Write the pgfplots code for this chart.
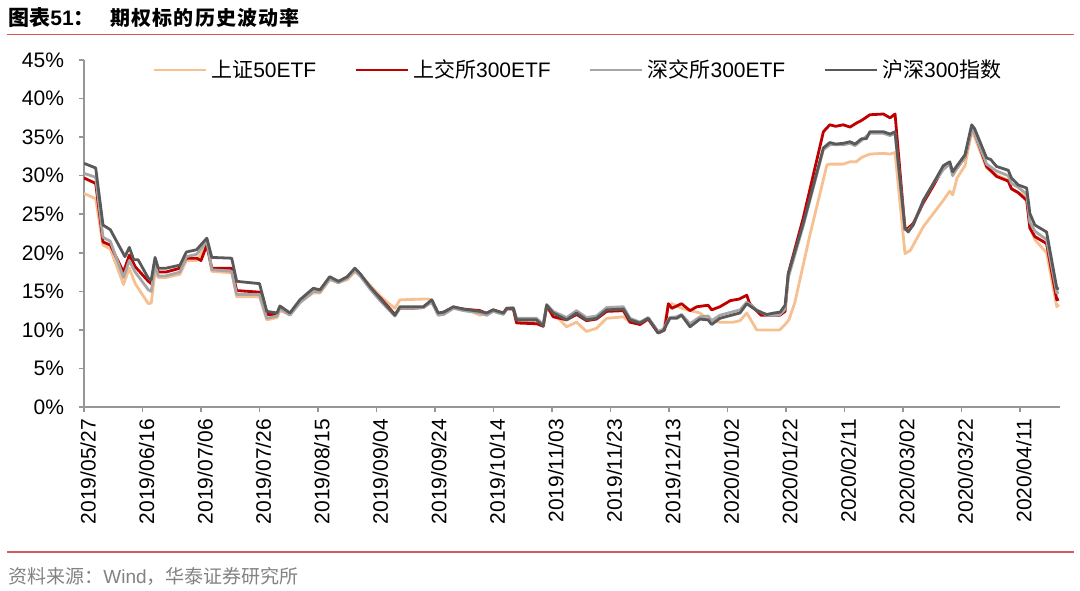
\documentclass[border=0pt]{standalone}
\usepackage{fontspec}
\setmainfont{Liberation Sans}
\newfontfamily\cjk{Noto Sans CJK SC}
\newfontfamily\cjkls[LetterSpace=6]{Noto Sans CJK SC}
\usepackage{pgfplots}
\pgfplotsset{compat=1.18}
\definecolor{cOrange}{RGB}{247,192,145}
\definecolor{cRed}{RGB}{192,0,0}
\definecolor{cLGray}{RGB}{166,166,166}
\definecolor{cDGray}{RGB}{89,89,89}
\definecolor{axgray}{RGB}{150,150,150}
\definecolor{lineRed}{RGB}{214,90,90}
\definecolor{srcgray}{RGB}{130,130,130}
\begin{document}
\begin{tikzpicture}
\useasboundingbox (0,0) rectangle (540pt,-295pt);
\node[anchor=base west, inner sep=0pt, font=\fontsize{10.5}{12}\selectfont\bfseries] at (4pt,-12.5pt) {{\cjk 图表}51{\cjk ：}};
\node[anchor=base west, inner sep=0pt, font=\fontsize{10}{12}\selectfont\cjkls\bfseries] at (55pt,-12.5pt) {期权标的历史波动率};
\draw[lineRed, line width=0.9pt] (3.5pt,-17.25pt) -- (537pt,-17.25pt);
\draw[lineRed, line width=0.9pt] (3.5pt,-276pt) -- (537pt,-276pt);
\node[anchor=base west, inner sep=0pt, text=srcgray, font=\fontsize{9.5}{11}\selectfont] at (4pt,-291.5pt) {{\cjk 资料来源：}Wind{\cjk ，华泰证券研究所}};
\begin{axis}[
  at={(42pt,-203.5pt)}, anchor=south west, scale only axis,
  width=488pt, height=173.5pt,
  xmin=0, xmax=333.7, ymin=0, ymax=45,
  axis x line*=bottom, axis y line*=left,
  axis line style={draw=axgray, line width=0.75pt, -},
  tick align=outside, major tick length=2.5pt,
  tick style={axgray, line width=0.75pt},
  xtick={0,20,...,320},
  xticklabels={2019/05/27,2019/06/16,2019/07/06,2019/07/26,2019/08/15,2019/09/04,2019/09/24,2019/10/14,2019/11/03,2019/11/23,2019/12/13,2020/01/02,2020/01/22,2020/02/11,2020/03/02,2020/03/22,2020/04/11},
  xticklabel style={rotate=90, anchor=east, yshift=-2pt, font=\fontsize{10.5}{12}\selectfont},
  ytick={0,5,...,45},
  yticklabels={0\%,5\%,10\%,15\%,20\%,25\%,30\%,35\%,40\%,45\%},
  yticklabel style={xshift=-4pt, font=\fontsize{10.5}{12}\selectfont},
  legend style={at={(0.507,0.971)}, anchor=center, draw=none, fill=none,
    legend columns=4, font=\fontsize{10.5}{12}\selectfont,
    /tikz/every even column/.append style={column sep=17pt}},
  legend image code/.code={\draw[#1] (0pt,0pt) -- (26pt,0pt);},
  every axis plot/.append style={line width=1.4pt, line join=round, no markers},
]
\addplot[cOrange] coordinates {
(0,27.7) (4,27.0) (6.5,21.0) (9,20.5) (13.5,15.9) (15.5,18.0) (17.5,16.0) (22,13.4) (23,13.5) (24.3,17.5) (25.4,16.8) (28,16.8) (32.8,17.2) (35,19.0) (38.5,19.0) (42,21.0) (43.7,17.6) (50.5,17.4) (52.2,14.3) (60,14.3) (62.5,11.3) (66,11.6) (67,12.5) (70.4,12.0) (73.8,13.6) (78.4,14.8) (80.7,14.8) (84,16.5) (87,16.2) (90,16.5) (92.6,17.5) (94.4,17.1) (97.8,15.8) (101.2,14.4) (104,13.5) (106.3,12.8) (108,13.9) (116,14.0) (117.5,14.0) (118.9,13.9) (121.1,12.2) (123,12.3) (126.3,13.0) (129.7,12.7) (133,12.3) (135.4,11.9) (137.7,12.2) (139.9,12.6) (143.4,12.2) (144.5,12.8) (146.8,12.8) (147.9,11.0) (154.7,10.9) (157,10.4) (158.2,12.8) (160.4,12.0) (163,11.2) (165,10.4) (168.4,11.0) (171.8,9.8) (175.2,10.2) (178.7,11.5) (184.4,11.7) (186.7,11.0) (190.1,10.8) (192.9,11.5) (196.3,9.8) (198.1,10.0) (199.8,13.2) (201,13.4) (204.3,12.8) (207.2,12.5) (210.6,12.2) (213.4,11.3) (217.4,11.0) (222,11.0) (224.3,11.2) (226.6,12.2) (230,10.0) (237.9,10.0) (239.7,10.7) (241,11.3) (243,13.5) (248,22.0) (254,31.4) (255,31.5) (259.6,31.5) (261.9,31.8) (264,31.8) (266,32.4) (268.7,32.8) (273.3,32.9) (275.6,32.8) (277.3,33.0) (280.7,19.9) (282.5,20.3) (287,23.4) (290.4,25.1) (293.8,26.8) (296,28.0) (297,27.5) (298.5,29.7) (301.2,31.3) (303.5,35.7) (304.5,35.0) (308.6,31.0) (312,30.1) (316,29.4) (317.1,28.3) (319.4,27.8) (322.3,27.3) (323.4,23.4) (325.1,21.7) (329.1,20.0) (332.6,13.0) (333.3,13.3)
};
\addlegendentry{{\cjk 上证}50ETF}
\addplot[cRed] coordinates {
(0,29.7) (4,29.0) (6.5,21.4) (9,21.0) (13.5,17.5) (15.5,19.7) (17.5,18.2) (22,16.3) (23,16.0) (24.3,19.0) (25.4,17.5) (28,17.5) (32.8,18.0) (35,19.3) (38.5,19.3) (40,19.0) (42,21.0) (43.7,18.0) (50.5,18.0) (52.2,15.1) (56,15.0) (60,14.9) (62.5,12.0) (66,12.0) (67,12.9) (70.4,12.0) (73.8,13.7) (78.4,15.2) (80.7,15.0) (84,16.8) (87,16.2) (90,16.8) (92.6,17.8) (94.4,17.2) (97.8,15.5) (101.2,14.2) (106.3,12.0) (108,12.8) (112,12.8) (116,12.9) (118.9,13.7) (121.1,12.1) (123,12.3) (126.3,12.9) (129.7,12.7) (135.4,12.5) (137.7,12.1) (139.9,12.6) (143.4,12.1) (144.5,12.7) (146.8,12.7) (147.9,10.9) (154.7,10.8) (157,10.5) (158.2,13.2) (160.4,11.7) (165,11.3) (168.4,12.0) (171.8,11.2) (175.2,11.4) (178.7,12.4) (184.4,12.5) (186.7,11.0) (190.1,10.7) (192.9,11.4) (196.3,9.6) (198.5,10.0) (199.8,13.4) (201,12.8) (204.3,13.4) (207.2,12.5) (209.5,13.0) (213.4,13.2) (214.6,12.6) (217.4,13.0) (221,13.8) (224,14.0) (226.6,14.5) (227.6,13.4) (231.5,11.9) (237.9,11.9) (239.7,12.4) (240.8,17.3) (245.9,24.5) (252.8,35.7) (255,36.6) (257,36.4) (259.6,36.6) (261.9,36.3) (264,36.8) (266,37.2) (268.7,37.9) (273.3,38.0) (275.6,37.5) (277.3,38.0) (280.7,23.0) (281.8,23.2) (283.5,23.8) (287,26.5) (290.4,28.7) (293.8,31.0) (296,31.6) (297,30.3) (298.5,31.0) (301.2,32.4) (303.5,36.1) (304.5,35.6) (308.6,31.2) (312,29.9) (316,29.3) (317.1,28.3) (319.4,27.8) (322.3,26.8) (323.4,23.2) (325.1,22.1) (329.1,21.2) (332.6,13.9) (333.3,14.0)
};
\addlegendentry{{\cjk 上交所}300ETF}
\addplot[cLGray] coordinates {
(0,30.3) (4,29.8) (6.5,22.0) (9,21.5) (13.5,16.8) (15.5,19.0) (17.5,17.5) (22,15.2) (23,15.0) (24.3,18.5) (25.4,17.0) (28,17.0) (32.8,17.5) (35,19.5) (38.5,19.8) (42,21.5) (43.7,17.8) (50.5,17.6) (52.2,14.6) (60,14.6) (62.5,11.5) (66,11.8) (67,12.8) (70.4,11.9) (73.8,13.5) (78.4,15.0) (80.7,14.9) (84,16.6) (87,16.1) (90,16.7) (92.6,17.7) (94.4,17.0) (97.8,15.3) (101.2,13.8) (106.3,11.8) (108,12.8) (112,12.8) (116,12.9) (118.9,13.6) (121.1,11.9) (123,12.0) (126.3,12.8) (129.7,12.5) (135.4,12.2) (137.7,11.9) (139.9,12.4) (143.4,12.0) (144.5,12.8) (146.8,12.9) (147.9,11.5) (154.7,11.5) (157,10.7) (158.2,13.3) (160.4,12.4) (165,11.6) (168.4,12.5) (171.8,11.6) (175.2,11.8) (178.7,12.9) (184.4,13.0) (186.7,11.5) (190.1,11.0) (192.9,11.6) (196.3,9.8) (198.1,10.1) (200.3,11.6) (202.6,11.7) (204.3,12.0) (207.2,10.8) (210.6,11.7) (213.4,11.8) (214.6,11.2) (217.4,11.9) (224.3,12.6) (226.6,13.6) (230,12.6) (233.4,11.9) (236,11.9) (238,12.0) (239.7,12.7) (240.8,16.8) (245.9,23.5) (252.8,33.4) (255,34.0) (259.6,34.0) (261.9,34.2) (263.6,33.9) (265.9,34.6) (268.7,35.5) (273.3,35.5) (275.6,35.2) (277.3,35.5) (280.7,23.0) (281.8,22.9) (283.5,23.6) (287,26.8) (290.4,29.0) (293.8,30.8) (296,31.5) (297,30.0) (298.5,31.0) (301.2,32.4) (303.5,36.0) (304.5,35.5) (308.6,31.5) (312,30.6) (316,30.0) (317.1,29.0) (319.4,28.5) (322.3,27.6) (323.4,24.0) (325.1,22.8) (329.1,21.7) (332.6,14.8) (333.3,14.9)
};
\addlegendentry{{\cjk 深交所}300ETF}
\addplot[cDGray] coordinates {
(0,31.6) (4,31.0) (6.5,23.6) (9,23.0) (14,19.5) (15.5,20.7) (17,19.1) (18.5,19.1) (22,16.7) (23,16.5) (24.3,19.4) (25.4,18.0) (28,18.0) (32.8,18.4) (35,20.1) (38.5,20.4) (42,21.9) (43.7,19.4) (50.5,19.3) (52.2,16.3) (60,16.0) (62.5,12.4) (66,12.2) (67,13.1) (70.4,12.2) (73.8,13.9) (78.4,15.4) (80.7,15.2) (84,16.9) (87,16.3) (90,16.9) (92.6,18.0) (94.4,17.3) (97.8,15.6) (101.2,14.1) (106.3,11.9) (108,13.0) (112,13.0) (116,13.0) (118.9,13.9) (121.1,12.2) (123,12.3) (126.3,13.0) (129.7,12.7) (135.4,12.4) (137.7,12.2) (139.9,12.6) (143.4,12.2) (144.5,12.8) (146.8,12.8) (147.9,11.3) (154.7,11.3) (157,10.5) (158.2,13.2) (160.4,12.2) (165,11.3) (168.4,12.2) (171.8,11.3) (175.2,11.5) (178.7,12.6) (184.4,12.7) (186.7,11.3) (190.1,10.9) (192.9,11.5) (196.3,9.6) (198.1,9.9) (200.3,11.5) (202.6,11.5) (204.3,11.9) (207.2,10.4) (210.6,11.4) (213.4,11.3) (214.6,10.7) (217.4,11.5) (224.3,12.2) (226.6,13.4) (230,12.5) (233.4,12.0) (236,12.2) (238,12.3) (239.7,13.2) (240.8,17.3) (245.9,23.8) (252.8,33.6) (255,34.3) (257,34.1) (259.6,34.2) (261.9,34.4) (263.6,34.1) (265.9,34.8) (267.5,34.8) (268.7,35.7) (273.3,35.7) (275.6,35.4) (277.3,35.7) (280.7,23.2) (281.8,22.7) (283.5,23.6) (287,26.8) (290.4,29.0) (293.8,31.3) (296,31.8) (297,30.5) (298.5,31.3) (301.2,32.7) (303.5,36.6) (304.5,36.1) (308.6,32.3) (310,32.1) (312,31.2) (316,30.7) (317.1,29.7) (319.4,28.8) (322.3,28.4) (323.4,25.1) (325.1,23.6) (329.1,22.7) (332.6,15.4) (333.3,15.3)
};
\addlegendentry{{\cjk 沪深}300{\cjk 指数}}
\end{axis}
\end{tikzpicture}
\end{document}
